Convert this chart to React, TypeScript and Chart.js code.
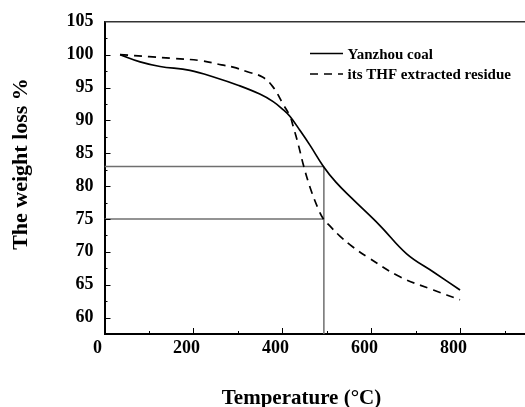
import React, { useEffect, useRef } from 'react';
import { Chart, registerables } from 'chart.js';

Chart.register(...registerables);

// ---- data ----
const SERIES_LABELS = ['Yanzhou coal', 'its THF extracted residue'];

const COAL_T = [35, 80, 125, 192, 252, 300, 349, 379, 402, 417, 439, 462, 492, 520, 555, 619, 679, 740, 799];
const COAL_W = [100, 98.9, 98.2, 97.6, 96.45, 95.35, 94.0, 92.85, 91.6, 90.6, 88.5, 86.2, 83.0, 80.6, 78.2, 74.0, 69.7, 66.9, 64.2];

const RESIDUE_T = [35, 100, 150, 215, 263, 289, 321, 355, 379, 402, 417, 424, 436, 447, 462, 480, 492, 507, 529, 559, 589, 664, 739, 799];
const RESIDUE_W = [100, 99.7, 99.45, 99.1, 98.45, 98.1, 97.4, 96.6, 95.06, 92.4, 90.6, 89.1, 86.2, 83.2, 79.8, 76.6, 75.0, 73.9, 72.4, 70.7, 69.3, 66.2, 64.2, 62.7];

const REF_T = 493;
const REF_W_HIGH = 83;
const REF_W_LOW = 75;

const X_MIN = 0;
const X_MAX = 945;
const X_STEP = 200;
const Y_MIN = 57.5;
const Y_MAX = 105;
const Y_STEP = 5;

const X_TITLE = 'Temperature (°C)';
const Y_TITLE = 'The weight loss %';

const FONT = "'Liberation Serif', 'Times New Roman', Times, serif";

const decorPlugin = {
  id: 'decor',
  afterDraw(chart: any) {
    const { ctx, chartArea, scales } = chart;
    const xs = scales.x;
    const ys = scales.y;
    ctx.save();

    // top frame line
    ctx.strokeStyle = '#333';
    ctx.lineWidth = 1.5;
    ctx.beginPath();
    ctx.moveTo(chartArea.left, chartArea.top);
    ctx.lineTo(chartArea.right, chartArea.top);
    ctx.stroke();

    // inward ticks
    ctx.strokeStyle = '#000';
    ctx.lineWidth = 1;
    const xt = xs.ticks.map((t: any) => t.value);
    const yt = ys.ticks.map((t: any) => t.value);
    const xMinor: number[] = [];
    for (let i = 0; i < xt.length; i++) {
      const m = xt[i] + X_STEP / 2;
      if (m < X_MAX) xMinor.push(m);
    }
    const yMinor: number[] = [];
    for (let i = 0; i < yt.length; i++) {
      const m = yt[i] + Y_STEP / 2;
      if (m < Y_MAX) yMinor.push(m);
    }
    const b = chartArea.bottom;
    const l = chartArea.left;
    ctx.beginPath();
    xt.forEach((v: number) => {
      if (v <= X_MIN) return;
      const p = Math.round(xs.getPixelForValue(v)) + 0.5;
      ctx.moveTo(p, b);
      ctx.lineTo(p, b - 6);
    });
    xMinor.forEach((v: number) => {
      const p = Math.round(xs.getPixelForValue(v)) + 0.5;
      ctx.moveTo(p, b);
      ctx.lineTo(p, b - 3);
    });
    yt.forEach((v: number) => {
      if (v >= Y_MAX) return;
      const p = Math.round(ys.getPixelForValue(v)) + 0.5;
      ctx.moveTo(l, p);
      ctx.lineTo(l + 6, p);
    });
    yMinor.forEach((v: number) => {
      const p = Math.round(ys.getPixelForValue(v)) + 0.5;
      ctx.moveTo(l, p);
      ctx.lineTo(l + 3, p);
    });
    ctx.stroke();

    // legend
    const legendY = [53.5, 74];
    const legendBase = [59, 79];
    ctx.font = `bold 15px ${FONT}`;
    ctx.fillStyle = '#000';
    ctx.textAlign = 'left';
    ctx.textBaseline = 'alphabetic';
    for (let i = 0; i < 2; i++) {
      const ds = chart.data.datasets[i];
      ctx.strokeStyle = ds.borderColor;
      ctx.lineWidth = ds.borderWidth;
      ctx.setLineDash(ds.borderDash || []);
      ctx.beginPath();
      ctx.moveTo(310, legendY[i]);
      ctx.lineTo(343, legendY[i]);
      ctx.stroke();
      ctx.setLineDash([]);
      ctx.fillText(ds.label, 347.5, legendBase[i]);
    }

    // axis titles
    ctx.font = `bold 21px ${FONT}`;
    ctx.textAlign = 'center';
    ctx.fillText(X_TITLE, 301.5, 404);
    ctx.save();
    ctx.translate(27, 164);
    ctx.rotate(-Math.PI / 2);
    ctx.font = `bold 22px ${FONT}`;
    ctx.fillText(Y_TITLE, 0, 0);
    ctx.restore();

    ctx.restore();
  },
};

export default function App() {
  const ref = useRef<HTMLCanvasElement | null>(null);

  useEffect(() => {
    document.body.style.margin = '0';
    if (!ref.current) return;
    const refColor = '#6f6f6f';
    const chart = new Chart(ref.current, {
      type: 'line',
      data: {
        datasets: [
          {
            label: SERIES_LABELS[0],
            data: COAL_T.map((t, i) => ({ x: t, y: COAL_W[i] })),
            borderColor: '#000',
            borderWidth: 1.7,
            pointRadius: 0,
            tension: 0.4,
            fill: false,
          },
          {
            label: SERIES_LABELS[1],
            data: RESIDUE_T.map((t, i) => ({ x: t, y: RESIDUE_W[i] })),
            borderColor: '#000',
            borderWidth: 1.7,
            borderDash: [8, 6],
            pointRadius: 0,
            tension: 0.4,
            fill: false,
          },
          {
            label: 'ref83',
            data: [{ x: X_MIN, y: REF_W_HIGH }, { x: REF_T, y: REF_W_HIGH }],
            borderColor: refColor,
            borderWidth: 1.5,
            pointRadius: 0,
            tension: 0,
          },
          {
            label: 'ref75',
            data: [{ x: X_MIN, y: REF_W_LOW }, { x: REF_T, y: REF_W_LOW }],
            borderColor: refColor,
            borderWidth: 1.5,
            pointRadius: 0,
            tension: 0,
          },
          {
            label: 'refV',
            data: [{ x: REF_T, y: REF_W_HIGH }, { x: REF_T, y: Y_MIN }],
            borderColor: refColor,
            borderWidth: 1.5,
            pointRadius: 0,
            tension: 0,
          },
        ],
      },
      options: {
        responsive: false,
        animation: false,
        layout: { padding: { top: 19, right: 0, bottom: 0, left: 0 } },
        plugins: {
          legend: { display: false },
          tooltip: { enabled: false },
        },
        scales: {
          x: {
            type: 'linear',
            min: X_MIN,
            max: X_MAX,
            grid: { display: false, drawTicks: false },
            border: { display: true, color: '#000', width: 2 },
            ticks: {
              stepSize: X_STEP,
              includeBounds: false,
              color: '#000',
              font: { family: FONT, size: 18, weight: 'bold' },
              padding: 4,
              labelOffset: -7,
              maxRotation: 0,
              autoSkip: false,
            },
            afterFit: (s: any) => {
              s.height = 73;
            },
          },
          y: {
            type: 'linear',
            min: Y_MIN,
            max: Y_MAX,
            grid: { display: false, drawTicks: false },
            border: { display: true, color: '#000', width: 2 },
            ticks: {
              stepSize: Y_STEP,
              includeBounds: false,
              color: '#000',
              font: { family: FONT, size: 18, weight: 'bold' },
              padding: 11,
              autoSkip: false,
            },
            afterFit: (s: any) => {
              s.width = 104.5;
            },
          },
        },
      } as any,
      plugins: [decorPlugin],
    });
    return () => chart.destroy();
  }, []);

  return (
    <div style={{ width: 525, height: 407 }}>
      <canvas ref={ref} width={525} height={407} style={{ display: 'block' }} />
    </div>
  );
}
